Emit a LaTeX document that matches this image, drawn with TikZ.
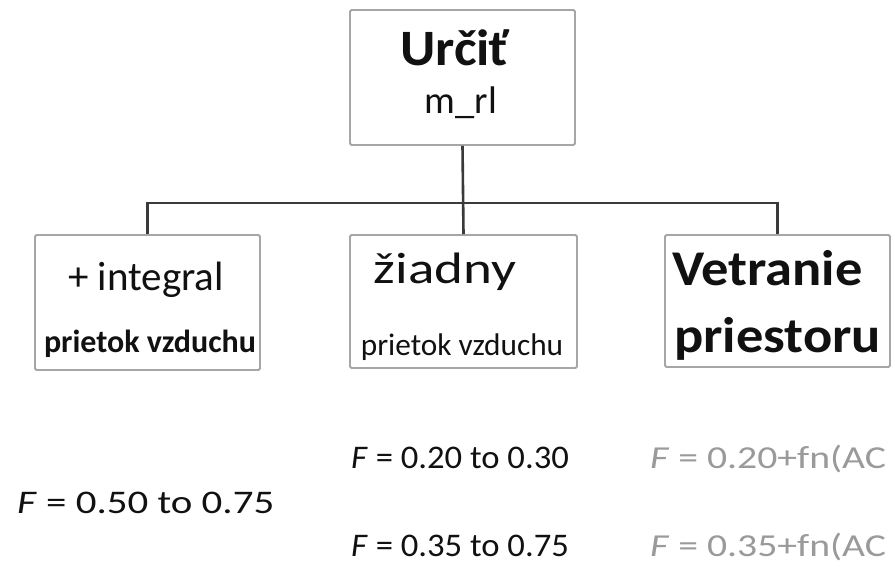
\documentclass[tikz,border=0pt]{standalone}
\usepackage{fontspec}
\setmainfont{Carlito}
\usepackage{graphicx}
\definecolor{boxgray}{HTML}{A6A6A6}
\definecolor{linegray}{HTML}{3A3A3A}
\definecolor{txtgray}{HTML}{9A9A9A}
\definecolor{txt}{HTML}{111111}
\tikzset{
  frame/.style={draw=boxgray, line width=1.8pt, rounded corners=1.5pt, fill=white, inner sep=0pt},
  conn/.style={draw=linegray, line width=2.6pt},
  lbl/.style={inner sep=0pt, text=txt},
  glbl/.style={inner sep=0pt, text=txtgray},
}
\begin{document}
\begin{tikzpicture}[x=1pt,y=-1pt]
\useasboundingbox[fill=white] (0,0) rectangle (895,566);
% boxes
\node[frame, minimum width=225pt, minimum height=135pt] (top) at (462.5,77.5) {};
\node[frame, minimum width=225pt, minimum height=135pt] (left) at (147.5,302.5) {};
\node[frame, minimum width=227pt, minimum height=133pt] (mid) at (463.5,301.5) {};
\node[frame, minimum width=225pt, minimum height=132pt] (right) at (777.5,301) {};
% connectors
\coordinate (bar) at (0,203);
\draw[conn] (top.south) -- (mid.north);
\draw[conn] (left.north) -- (left.north |- bar) -- (right.north |- bar) -- (right.north);
% box texts
\node[lbl, anchor=base] (t1) at (455,65) {\scalebox{1.06}[1]{\fontsize{51}{51}\selectfont\bfseries Určiť}};
\node[lbl, anchor=base] (t2) at (461,113) {\fontsize{38.5}{38}\selectfont m\_rl};
\node[lbl, anchor=base] (l1) at (146,290) {\fontsize{41}{41}\selectfont + integral};
\node[lbl, anchor=base] (l2) at (150,352) {\fontsize{32}{32}\selectfont\bfseries prietok vzduchu};
\node[lbl, anchor=base] (m1) at (445,283) {\scalebox{1.25}[1]{\fontsize{44}{44}\selectfont žiadny}};
\node[lbl, anchor=base] (m2) at (462,355) {\fontsize{31.3}{31}\selectfont prietok vzduchu};
\node[lbl, anchor=base west] (r1) at (672,285) {\scalebox{1.09}[1]{\fontsize{50}{50}\selectfont\bfseries Vetranie}};
\node[lbl, anchor=base west] (r2) at (674,352) {\scalebox{1.09}[1]{\fontsize{50}{50}\selectfont\bfseries priestoru}};
% F values
\node[lbl, anchor=base west] (f1) at (351,468) {\scalebox{1.05}[1]{\fontsize{33}{33}\selectfont\textit{F} = 0.20 to 0.30}};
\node[lbl, anchor=base west] (f2) at (17,513) {\scalebox{1.24}[1]{\fontsize{33}{33}\selectfont\textit{F} = 0.50 to 0.75}};
\node[lbl, anchor=base west] (f3) at (351,556) {\scalebox{1.05}[1]{\fontsize{33}{33}\selectfont\textit{F} = 0.35 to 0.75}};
\node[glbl, anchor=base west] (g1) at (650,468) {\scalebox{1.24}[1]{\fontsize{32}{32}\selectfont\textit{F} = 0.20+fn(AC}};
\node[glbl, anchor=base west] (g2) at (650,556) {\scalebox{1.24}[1]{\fontsize{32}{32}\selectfont\textit{F} = 0.35+fn(AC}};
\end{tikzpicture}
\end{document}
